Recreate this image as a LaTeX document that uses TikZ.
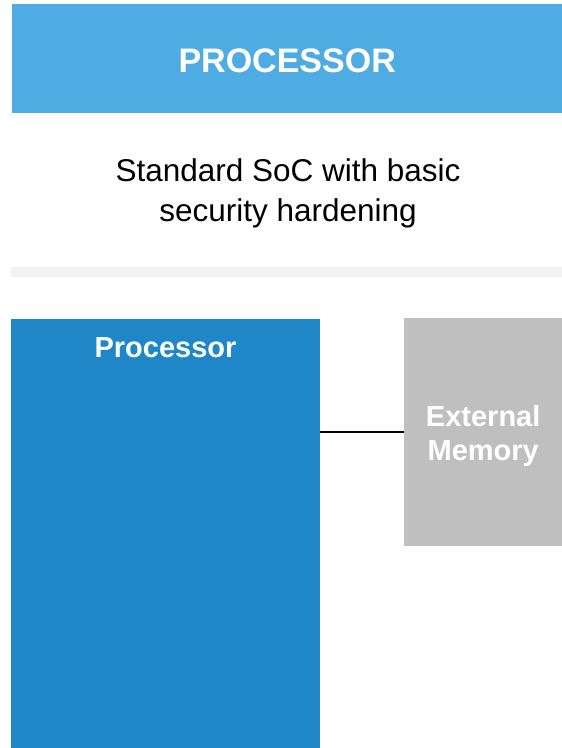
\documentclass[tikz,border=0pt]{standalone}
\usepackage{fontspec}
\setmainfont{Liberation Sans}
\usetikzlibrary{positioning}
\definecolor{bannerblue}{HTML}{4FACE3}
\definecolor{procblue}{HTML}{1F86C7}
\definecolor{memgray}{HTML}{BFBFBF}
\definecolor{sepgray}{HTML}{F2F2F2}

\begin{document}
\begin{tikzpicture}[x=1pt, y=-1pt,
    block/.style={draw=none, inner sep=0pt, anchor=north west},
    boxlabel/.style={text=white, font=\bfseries\fontsize{29}{34}\selectfont, align=center}]
    \useasboundingbox (0,0) rectangle (562,748);

    \node[block, fill=bannerblue, minimum width=550pt, minimum height=109pt] (banner) at (12,4) {};
    \node[text=white, font=\bfseries\fontsize{34}{40}\selectfont, yshift=-2pt] (title) at (banner.center) {PROCESSOR};
    \node[align=center, font=\fontsize{31.5}{40}\selectfont] (subtitle) at (288,193) {Standard SoC with basic\\security hardening};
    \node[block, fill=sepgray, minimum width=551pt, minimum height=10pt] (sep) at (11,267) {};

    \node[block, fill=procblue, minimum width=309pt, minimum height=429pt] (proc) at (11,319) {};
    \node[boxlabel] (proclabel) at (165.5,348) {Processor};
    \node[block, fill=memgray, minimum width=158pt, minimum height=228pt] (mem) at (404,318) {};
    \node[boxlabel, yshift=-4pt] (memlabel) at (mem.center) {External\\Memory};

    \draw[line width=1.5pt] (mem.west) -- (mem.west -| proc.east);
\end{tikzpicture}
\end{document}
